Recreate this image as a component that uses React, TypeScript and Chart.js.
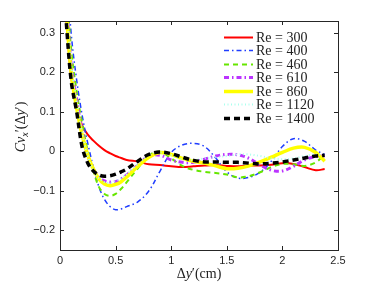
import React, { useEffect, useRef } from "react";
import { Chart, registerables } from "chart.js";

Chart.register(...registerables);

const X = [0.05, 0.1, 0.15, 0.2, 0.25, 0.3, 0.35, 0.4, 0.45, 0.5, 0.55, 0.6, 0.7, 0.8, 0.9, 1.0, 1.1, 1.2, 1.3, 1.4, 1.5, 1.6, 1.7, 1.8, 1.9, 2.0, 2.1, 2.2, 2.3, 2.38];

const re300 = [0.36, 0.19, 0.11, 0.065, 0.042, 0.027, 0.014, 0.003, -0.005, -0.012, -0.017, -0.022, -0.026, -0.033, -0.035, -0.038, -0.04, -0.038, -0.036, -0.035, -0.037, -0.038, -0.036, -0.036, -0.034, -0.03, -0.032, -0.04, -0.048, -0.045];
const re400 = [0.5, 0.3, 0.18, 0.09, 0.02, -0.04, -0.09, -0.122, -0.14, -0.148, -0.146, -0.14, -0.128, -0.1, -0.05, -0.003, 0.016, 0.02, 0.012, -0.017, -0.052, -0.068, -0.066, -0.053, -0.025, 0.012, 0.032, 0.025, 0.003, -0.008];
const re460 = [0.45, 0.26, 0.15, 0.07, 0.0, -0.05, -0.09, -0.108, -0.113, -0.108, -0.095, -0.078, -0.043, -0.01, -0.001, -0.018, -0.037, -0.047, -0.052, -0.055, -0.059, -0.066, -0.063, -0.053, -0.04, -0.032, -0.033, -0.037, -0.028, -0.008];
const re610 = [0.42, 0.22, 0.13, 0.05, -0.01, -0.045, -0.065, -0.075, -0.078, -0.077, -0.07, -0.06, -0.035, -0.012, -0.01, -0.022, -0.028, -0.028, -0.02, -0.012, -0.008, -0.009, -0.018, -0.035, -0.048, -0.05, -0.038, -0.022, -0.013, -0.012];
const re860 = [0.38, 0.2, 0.11, 0.04, -0.01, -0.045, -0.07, -0.083, -0.087, -0.084, -0.077, -0.065, -0.038, -0.015, -0.003, -0.008, -0.018, -0.025, -0.03, -0.037, -0.044, -0.043, -0.037, -0.027, -0.015, -0.003, 0.008, 0.01, -0.003, -0.025];
const re1120 = [0.41, 0.22, 0.125, 0.045, -0.012, -0.048, -0.068, -0.078, -0.08, -0.076, -0.068, -0.058, -0.032, -0.01, -0.003, -0.01, -0.02, -0.022, -0.018, -0.015, -0.012, -0.008, -0.008, -0.012, -0.018, -0.02, -0.018, -0.012, -0.008, -0.012];
const re1400 = [0.35, 0.18, 0.1, 0.01, -0.03, -0.05, -0.06, -0.063, -0.062, -0.058, -0.052, -0.045, -0.025, -0.008, -0.002, -0.006, -0.015, -0.023, -0.027, -0.027, -0.028, -0.028, -0.03, -0.032, -0.03, -0.027, -0.022, -0.017, -0.012, -0.01];

const seriesLabels = ["Re = 300", "Re = 400", "Re = 460", "Re = 610", "Re = 860", "Re = 1120", "Re = 1400"];
const seriesValues = [re300, re400, re460, re610, re860, re1120, re1400];

const xTicks = [0, 0.5, 1, 1.5, 2, 2.5];
const yTicks = [-0.2, -0.1, 0, 0.1, 0.2, 0.3];

const styles = [
  { color: "#ff0000", width: 2, dash: [] as number[] },
  { color: "#1f3dff", width: 1.5, dash: [5, 3, 1.5, 3] },
  { color: "#66e600", width: 2, dash: [5, 4] },
  { color: "#bb33ff", width: 3, dash: [5, 3, 1.5, 3] },
  { color: "#ffff00", width: 3.5, dash: [] as number[] },
  { color: "#aaffee", width: 2, dash: [1, 2.5] },
  { color: "#000000", width: 3.5, dash: [6, 4] },
];

const AXIS_COLOR = "#262626";

const framePlugin = {
  id: "frame",
  afterDraw(chart: any) {
    const { ctx, chartArea } = chart;
    const { left, right, top, bottom } = chartArea;
    const xs = chart.scales.x;
    const ys = chart.scales.y;
    ctx.save();
    ctx.strokeStyle = AXIS_COLOR;
    ctx.lineWidth = 1;
    ctx.setLineDash([]);
    ctx.strokeRect(Math.round(left) + 0.5, Math.round(top) + 0.5, Math.round(right - left), Math.round(bottom - top));
    const tl = 4;
    ctx.beginPath();
    for (const v of xTicks) {
      const px = Math.round(xs.getPixelForValue(v)) + 0.5;
      ctx.moveTo(px, bottom);
      ctx.lineTo(px, bottom - tl);
      ctx.moveTo(px, top);
      ctx.lineTo(px, top + tl);
    }
    for (const v of yTicks) {
      const py = Math.round(ys.getPixelForValue(v)) + 0.5;
      ctx.moveTo(left, py);
      ctx.lineTo(left + tl, py);
      ctx.moveTo(right, py);
      ctx.lineTo(right - tl, py);
    }
    ctx.stroke();

    // legend
    const rowY0 = 36.5;
    const rowH = 13.5;
    chart.data.datasets.forEach((ds: any, i: number) => {
      const y = Math.round(rowY0 + i * rowH) + 0.5;
      ctx.beginPath();
      ctx.strokeStyle = ds.borderColor;
      ctx.lineWidth = ds.borderWidth;
      ctx.setLineDash(ds.borderDash || []);
      ctx.moveTo(224, y);
      ctx.lineTo(253, y);
      ctx.stroke();
      ctx.setLineDash([]);
      ctx.fillStyle = "#222";
      ctx.font = "14px 'Liberation Serif', 'DejaVu Serif', serif";
      ctx.textBaseline = "middle";
      ctx.textAlign = "left";
      ctx.fillText(ds.label, 256, y + 0.5);
    });

    // axis titles
    const drawParts = (parts: { t: string; f: string; dy?: number }[], x: number, y: number) => {
      let total = 0;
      for (const p of parts) {
        ctx.font = p.f;
        total += ctx.measureText(p.t).width;
      }
      let cx = x - total / 2;
      for (const p of parts) {
        ctx.font = p.f;
        ctx.fillText(p.t, cx, y + (p.dy || 0));
        cx += ctx.measureText(p.t).width;
      }
    };
    const up = "14px 'Liberation Serif', 'DejaVu Serif', serif";
    const it = "italic 14px 'Liberation Serif', 'DejaVu Serif', serif";
    const sub = "italic 10px 'Liberation Serif', 'DejaVu Serif', serif";
    ctx.fillStyle = "#222";
    ctx.textBaseline = "alphabetic";
    ctx.textAlign = "left";
    drawParts(
      [
        { t: "Δ", f: up },
        { t: "y", f: it },
        { t: "′", f: up },
        { t: "(cm)", f: up },
      ],
      (left + right) / 2,
      278
    );
    ctx.save();
    ctx.translate(25, 127);
    ctx.rotate(-Math.PI / 2);
    drawParts(
      [
        { t: "C", f: it },
        { t: "v", f: it },
        { t: "x", f: sub, dy: 3 },
        { t: "′", f: up },
        { t: "(", f: up },
        { t: "Δ", f: up },
        { t: "y", f: it },
        { t: "′", f: up },
        { t: ")", f: up },
      ],
      0,
      0
    );
    ctx.restore();
    ctx.restore();
  },
};

const fmt = (v: number) => {
  const r = Math.round(v * 10) / 10;
  if (r === 0) return "0";
  const s = Math.abs(r).toString();
  return r < 0 ? "−" + s : s;
};

export default function App() {
  const ref = useRef<HTMLCanvasElement | null>(null);
  useEffect(() => {
    if (!ref.current) return;
    const datasets = seriesValues.map((vals, i) => ({
      label: seriesLabels[i],
      data: X.map((x, j) => ({ x, y: vals[j] })),
      borderColor: styles[i].color,
      backgroundColor: styles[i].color,
      borderWidth: styles[i].width,
      borderDash: styles[i].dash,
      pointRadius: 0,
      tension: 0.35,
      fill: false,
      order: seriesValues.length - i,
    }));
    const chart = new Chart(ref.current, {
      type: "line",
      data: { datasets },
      options: {
        responsive: false,
        animation: false,
        layout: { padding: { left: 0, right: 35, top: 21, bottom: 0 } },
        plugins: { legend: { display: false }, tooltip: { enabled: false } },
        scales: {
          x: {
            type: "linear",
            min: 0,
            max: 2.5,
            afterBuildTicks: (s: any) => {
              s.ticks = xTicks.map((v) => ({ value: v }));
            },
            afterFit: (s: any) => {
              s.height = 33;
            },
            grid: { display: false, drawTicks: false },
            border: { display: false },
            ticks: {
              padding: 4,
              color: AXIS_COLOR,
              font: { family: "'Liberation Sans', Arial, sans-serif", size: 11 },
              maxRotation: 0,
              callback: (v: any) => String(v),
            },
          },
          y: {
            type: "linear",
            min: -0.25,
            max: 0.33,
            afterBuildTicks: (s: any) => {
              s.ticks = yTicks.map((v) => ({ value: v }));
            },
            afterFit: (s: any) => {
              s.width = 60;
            },
            grid: { display: false, drawTicks: false },
            border: { display: false },
            ticks: {
              padding: 5,
              color: AXIS_COLOR,
              font: { family: "'Liberation Sans', Arial, sans-serif", size: 11 },
              callback: (v: any) => fmt(Number(v)),
            },
          },
        },
      },
      plugins: [framePlugin],
    });
    return () => chart.destroy();
  }, []);
  return (
    <div style={{ position: "absolute", left: 0, top: 0, width: 373, height: 283, background: "#fff" }}>
      <canvas ref={ref} width={373} height={283} style={{ display: "block" }} />
    </div>
  );
}
